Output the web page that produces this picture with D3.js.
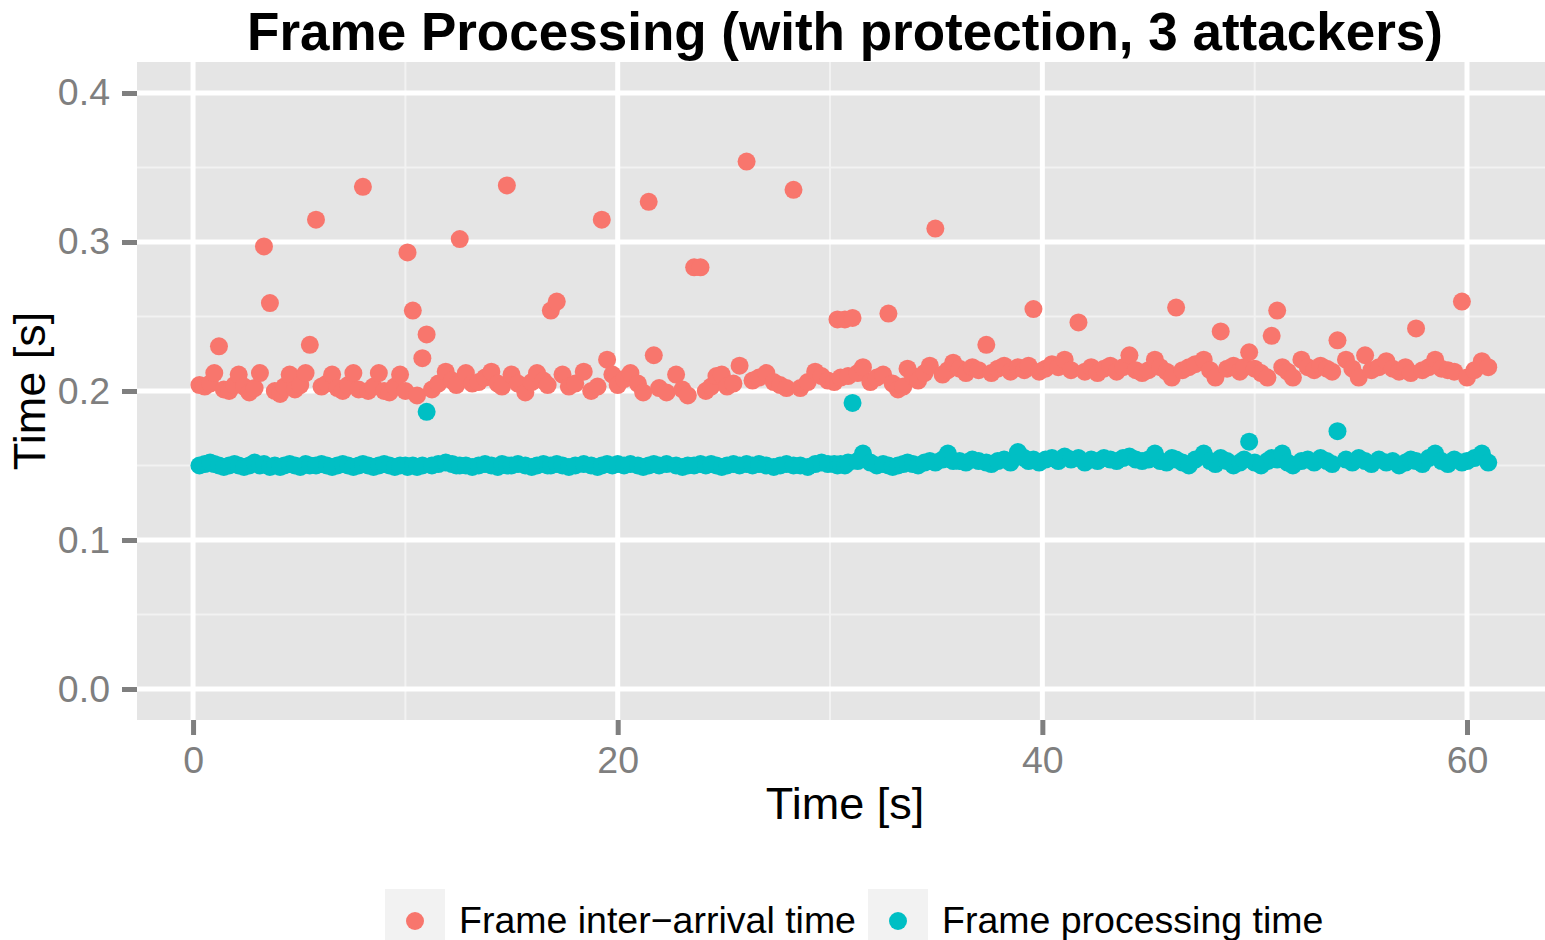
<!DOCTYPE html>
<html>
<head>
<meta charset="utf-8">
<script src="https://cdn.jsdelivr.net/npm/d3@7"></script>
<style>
  body { margin: 0; background: #fff; }
  text { font-family: "Liberation Sans", Arial, sans-serif; }
</style>
</head>
<body>
<div id="chart"></div>
<script>

// Frame processing chart (ggplot look)

const width = 1545;
const height = 940;
const panel = {left: 137, right: 1553, top: 62, bottom: 720};

// time of each frame [s]
const frameTime = [
  // 0 - 10 s
  0.30,0.55,0.80,1.00,1.22,1.45,1.70,1.95,2.15,2.40,2.65,2.90,3.15,3.34,3.62,3.85,4.10,4.30,4.55,4.80,
  5.05,5.30,5.50,5.79,6.05,6.30,6.55,6.80,7.05,7.30,7.55,7.80,8.00,8.25,8.50,8.75,9.00,9.25,9.50,9.75,
  // 10 - 15 s
  10.00,10.10,10.35,10.55,10.80,11.00,11.25,11.55,11.90,12.20,12.40,12.56,12.85,13.15,13.45,13.75,14.05,14.35,14.55,14.78,
  // 15 - 20 s
  15.00,15.30,15.65,15.95,16.20,16.50,16.70,16.85,17.13,17.40,17.70,18.00,18.40,18.75,19.05,19.25,19.50,19.75,20.00,
  // 20 - 30 s
  20.30,20.60,20.95,21.20,21.46,21.70,21.95,22.30,22.75,23.05,23.30,23.60,23.90,24.15,24.40,24.65,24.90,25.15,25.45,25.74,
  26.07,26.35,26.65,27.00,27.35,27.65,27.95,28.28,28.60,28.95,29.30,29.60,29.90,
  // 30 - 36 s
  30.20,30.35,30.50,30.70,30.85,31.06,31.30,31.55,31.90,32.20,32.50,32.75,32.95,33.20,33.45,33.65,33.90,34.15,34.45,34.70,
  34.96,35.30,35.55,35.80,
  // 36 - 45 s
  36.10,36.40,36.70,37.00,37.36,37.60,37.90,38.20,38.50,38.85,39.15,39.35,39.58,39.85,40.15,40.45,40.75,41.05,41.35,41.70,
  42.00,42.30,42.60,42.90,43.20,43.50,43.80,44.10,44.40,44.70,
  // 45 - 61 s
  45.00,45.30,45.55,45.85,46.10,46.30,46.60,46.90,47.20,47.60,47.90,48.15,48.40,48.70,49.00,49.30,49.50,49.74,50.00,50.30,
  50.60,50.80,51.06,51.30,51.55,51.80,52.20,52.50,52.80,53.10,53.40,53.65,53.90,54.30,54.60,54.90,55.20,55.50,55.85,56.20,
  56.50,56.80,57.10,57.35,57.60,57.90,58.20,58.50,58.80,59.10,59.40,59.76,60.00,60.35,60.70,61.00
];

// frame inter-arrival time [s]
const interArrival = [
  .204,.203,.205,.212,.230,.201,.200,.204,.211,.203,.199,.202,.212,.297,.259,.200,.198,.203,.211,.201,
  .204,.212,.231,.315,.203,.205,.211,.202,.200,.204,.212,.201,.337,.200,.203,.212,.200,.199,.203,.211,
  .200,.293,.254,.197,.222,.238,.201,.205,.213,.207,.204,.302,.212,.205,.206,.209,.213,.205,.203,.338,
  .211,.205,.199,.206,.212,.207,.204,.254,.260,.211,.203,.205,.213,.200,.203,.315,.221,.211,.204,
  .208,.212,.205,.199,.327,.224,.202,.199,.211,.201,.197,.283,.283,.200,.203,.210,.211,.203,.205,.217,
  .354,.207,.209,.212,.206,.204,.202,.335,.202,.206,.213,.210,.207,
  .206,.248,.209,.248,.210,.249,.212,.216,.206,.209,.211,.252,.205,.201,.203,.215,.210,.207,.212,.217,
  .309,.211,.214,.219,
  .215,.212,.216,.214,.231,.212,.215,.217,.213,.216,.214,.217,.255,.213,.215,.218,.216,.221,.214,.246,
  .213,.216,.212,.215,.217,.213,.216,.224,.214,.212,
  .214,.221,.216,.213,.209,.256,.214,.216,.218,.221,.214,.209,.240,.215,.217,.213,.216,.226,.215,.212,
  .209,.237,.254,.216,.213,.209,.221,.216,.214,.217,.215,.213,.234,.221,.215,.209,.224,.214,.216,.220,
  .215,.213,.216,.212,.242,.214,.216,.221,.215,.214,.213,.260,.209,.214,.220,.216
];

// frame processing time [s]
const procTime = [
  .150,.151,.152,.151,.150,.149,.150,.151,.150,.149,.150,.152,.150,.151,.149,.150,.149,.150,.151,.150,
  .149,.151,.150,.150,.151,.150,.149,.150,.151,.150,.149,.150,.151,.150,.149,.150,.151,.150,.149,.150,
  .150,.149,.150,.149,.150,.186,.150,.151,.152,.151,.150,.150,.150,.149,.150,.151,.150,.149,.151,.150,
  .150,.151,.150,.149,.150,.151,.150,.150,.151,.150,.149,.150,.151,.150,.149,.150,.151,.150,.151,
  .150,.151,.150,.149,.150,.151,.150,.151,.150,.149,.150,.150,.151,.150,.151,.150,.149,.150,.151,.150,
  .151,.150,.151,.150,.149,.150,.151,.150,.150,.149,.151,.152,.151,
  .151,.150,.151,.150,.152,.192,.153,.158,.152,.150,.151,.150,.149,.150,.151,.152,.151,.150,.152,.153,
  .152,.154,.158,.153,
  .153,.152,.154,.153,.152,.151,.153,.154,.152,.159,.155,.153,.154,.152,.154,.155,.153,.156,.154,.155,
  .152,.154,.153,.155,.154,.153,.155,.156,.154,.153,
  .154,.158,.153,.152,.155,.154,.152,.150,.154,.158,.153,.151,.155,.153,.150,.152,.154,.166,.152,.150,
  .153,.155,.154,.158,.152,.150,.153,.154,.152,.155,.153,.151,.173,.154,.152,.155,.153,.151,.154,.152,
  .153,.150,.152,.154,.153,.151,.155,.158,.153,.151,.154,.152,.153,.155,.158,.152
];

const seriesNames = ["Frame inter\u2212arrival time", "Frame processing time"];
const seriesColors = ["#F8766D", "#00BFC4"];

const xTicks = [0, 20, 40, 60];
const xMinor = [10, 30, 50];
const yTicks = [0, 0.1, 0.2, 0.3, 0.4];
const yMinor = [0.05, 0.15, 0.25, 0.35];

// long format table, one row per point
const n = Math.min(frameTime.length, interArrival.length, procTime.length);
const points = [];
d3.range(n).forEach(i => points.push({t: frameTime[i], v: interArrival[i], s: 0}));
d3.range(n).forEach(i => points.push({t: frameTime[i], v: procTime[i], s: 1}));

const svg = d3.select("#chart")
  .append("svg")
  .attr("width", width)
  .attr("height", height);

/*

  Scales

*/

const xScale = d3.scaleLinear()
  .domain([-2.64, 64.05])
  .range([panel.left, panel.right]);

const yScale = d3.scaleLinear()
  .domain([-0.0208, 0.4208])
  .range([panel.bottom, panel.top]);

/*

  Panel + grid

*/

svg.append("rect")
  .attr("x", panel.left)
  .attr("y", panel.top)
  .attr("width", panel.right - panel.left)
  .attr("height", panel.bottom - panel.top)
  .attr("fill", "#E5E5E5");

// minor grid
svg.selectAll(".xminor").data(xMinor).enter().append("line")
  .attr("x1", d => xScale(d)).attr("x2", d => xScale(d))
  .attr("y1", panel.top).attr("y2", panel.bottom)
  .attr("stroke", "#F2F2F2").attr("stroke-width", 2);
svg.selectAll(".yminor").data(yMinor).enter().append("line")
  .attr("x1", panel.left).attr("x2", panel.right)
  .attr("y1", d => yScale(d)).attr("y2", d => yScale(d))
  .attr("stroke", "#F2F2F2").attr("stroke-width", 2);

// major grid
svg.selectAll(".xmajor").data(xTicks).enter().append("line")
  .attr("x1", d => xScale(d)).attr("x2", d => xScale(d))
  .attr("y1", panel.top).attr("y2", panel.bottom)
  .attr("stroke", "#FFFFFF").attr("stroke-width", 5);
svg.selectAll(".ymajor").data(yTicks).enter().append("line")
  .attr("x1", panel.left).attr("x2", panel.right)
  .attr("y1", d => yScale(d)).attr("y2", d => yScale(d))
  .attr("stroke", "#FFFFFF").attr("stroke-width", 5);

/*

  Points

*/

svg.append("g")
  .selectAll("circle")
  .data(points)
  .enter()
  .append("circle")
    .attr("cx", d => xScale(d.t))
    .attr("cy", d => yScale(d.v))
    .attr("r", 9)
    .attr("fill", d => seriesColors[d.s]);

/*

  Axes

*/

const xAxis = svg.append("g")
  .attr("transform", `translate(0,${panel.bottom})`)
  .call(d3.axisBottom(xScale).tickValues(xTicks).tickSize(15).tickPadding(11).tickFormat(d3.format("d")));

const yAxis = svg.append("g")
  .attr("transform", `translate(${panel.left},0)`)
  .call(d3.axisLeft(yScale).tickValues(yTicks).tickSize(15).tickPadding(12).tickFormat(d3.format(".1f")));

[xAxis, yAxis].forEach(ax => {
  ax.select(".domain").remove();
  ax.selectAll(".tick line").attr("stroke", "#7F7F7F").attr("stroke-width", 5);
  ax.selectAll(".tick text")
    .attr("fill", "#7F7F7F")
    .attr("font-size", "37.5px")
    .attr("font-family", "Liberation Sans, Arial, sans-serif");
});

// axis titles
svg.append("text")
  .attr("x", 845)
  .attr("y", 819)
  .attr("text-anchor", "middle")
  .attr("font-size", "45px")
  .text("Time [s]");

svg.append("text")
  .attr("transform", `translate(45,${(panel.top + panel.bottom) / 2}) rotate(-90)`)
  .attr("text-anchor", "middle")
  .attr("font-size", "45px")
  .text("Time [s]");

// title
svg.append("text")
  .attr("x", 845)
  .attr("y", 50)
  .attr("text-anchor", "middle")
  .attr("font-size", "53px")
  .attr("font-weight", "bold")
  .text("Frame Processing (with protection, 3 attackers)");

/*

  Legend

*/

let keyX = 385;
seriesNames.forEach((name, i) => {
  svg.append("rect")
    .attr("x", keyX)
    .attr("y", 889)
    .attr("width", 60)
    .attr("height", 60)
    .attr("fill", "#F2F2F2");
  svg.append("circle")
    .attr("cx", keyX + 30)
    .attr("cy", 921)
    .attr("r", 9)
    .attr("fill", seriesColors[i]);
  const label = svg.append("text")
    .attr("x", keyX + 74)
    .attr("y", 933)
    .attr("font-size", "37.5px")
    .text(name);
  keyX = keyX + 74 + label.node().getComputedTextLength() + 12;
});

</script>
</body>
</html>
